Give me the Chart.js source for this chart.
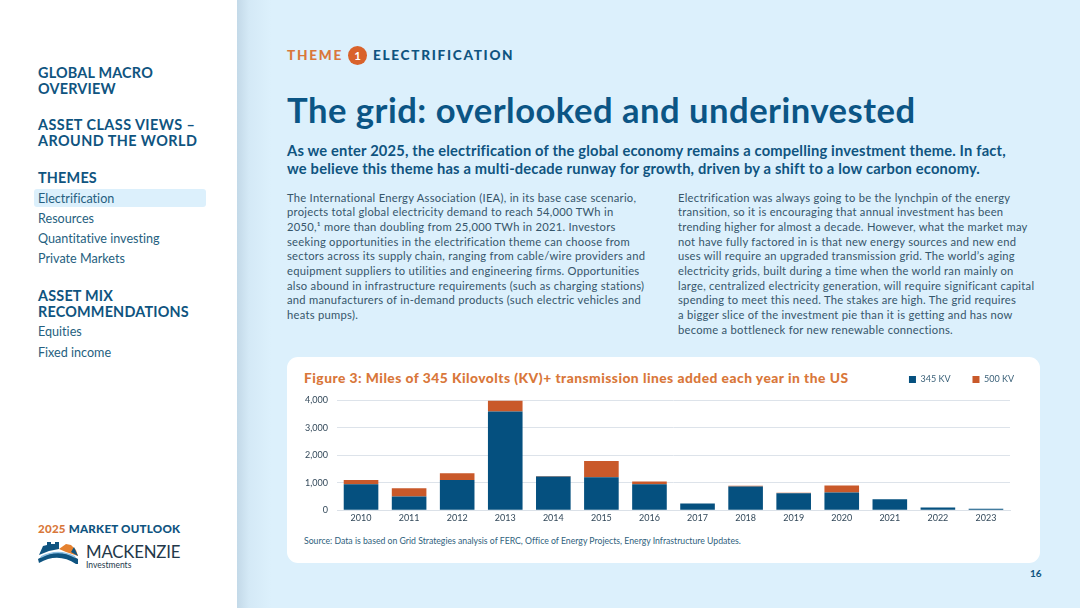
<!DOCTYPE html>
<html><head><meta charset="utf-8">
<script src="https://cdn.jsdelivr.net/npm/chart.js@4/dist/chart.umd.js"></script>
<style>
html,body{margin:0;padding:0;width:1080px;height:608px;overflow:hidden;background:#dcf0fc;font-family:Lato,sans-serif;font-variant-ligatures:none;-webkit-font-smoothing:antialiased}
.a{position:absolute;white-space:nowrap}
#side{position:absolute;left:0;top:0;width:237px;height:608px;background:#fff}
#shade{position:absolute;left:237px;top:0;width:34px;height:608px;background:linear-gradient(90deg,#c3d9e8,#d4e9f6 35%,#dcf0fc)}
.nh{color:#0f5480;font-weight:700;font-size:14.4px;line-height:16px;left:38px;letter-spacing:.2px}
.ni{color:#265f80;font-size:12.6px;line-height:16px;left:38px}
#hl{position:absolute;left:34px;top:189px;width:172px;height:18px;background:#dcf0fc;border-radius:3px}
.b{color:#36566b;font-size:11.2px;line-height:14.7px;letter-spacing:.27px}
#card{position:absolute;left:287px;top:357px;width:753px;height:206px;background:#fff;border-radius:11px}
#wrap{position:absolute;left:287px;top:357px;width:753px;height:206px}
</style></head><body>
<div id="side"></div><div id="shade"></div><div id="hl"></div>
<div class="a nh" style="top:65px">GLOBAL MACRO<br>OVERVIEW</div>
<div class="a nh" style="top:117px;letter-spacing:.45px">ASSET CLASS VIEWS –<br>AROUND THE WORLD</div>
<div class="a nh" style="top:170px">THEMES</div>
<div class="a ni" style="top:191px">Electrification</div>
<div class="a ni" style="top:211px">Resources</div>
<div class="a ni" style="top:231px">Quantitative investing</div>
<div class="a ni" style="top:251px">Private Markets</div>
<div class="a nh" style="top:288px">ASSET MIX<br>RECOMMENDATIONS</div>
<div class="a ni" style="top:324px">Equities</div>
<div class="a ni" style="top:345px">Fixed income</div>
<div class="a" style="left:38px;top:522px;font-size:11.6px;font-weight:900;letter-spacing:.22px;color:#0f5480"><span style="color:#d9773a">2025</span> MARKET OUTLOOK</div>
<svg class="a" style="left:38px;top:541px" width="42" height="26" viewBox="0 0 42 26">
<path d="M1 14 L5 5 L9 4 L9 1 L13 1 L13 3 L17 3 L17 1 L21 1 L21 8 L11 10 Z" fill="#0f5480"/>
<path d="M21 8 L28 3 L33 4 L38 9 L40 15 L28 11 Z" fill="#e5812f"/>
<path d="M36 6 L40 15 L33 11 Z" fill="#0f5480"/>
<path d="M0 18 Q20 5 40 18 L40 23 L38 23 Q20 11 1 22 Z" fill="#0f5480"/>
<path d="M3 16 Q20 7 37 16" stroke="#8fc1e3" stroke-width="1.6" fill="none"/>
</svg>
<div class="a" style="left:86px;top:541px;font-size:16.8px;color:#23384a;letter-spacing:-.2px">MACKENZIE</div>
<div class="a" style="left:86px;top:560px;font-size:8.5px;color:#23384a">Investments</div>

<div class="a" style="left:287px;top:47px;font-size:13.6px;font-weight:900;letter-spacing:1.75px;color:#d9773a">THEME</div>
<div class="a" style="left:348px;top:46px;width:19px;height:19px;border-radius:50%;background:#d9622b;color:#fff;font-size:11.5px;font-weight:700;text-align:center;line-height:19px">1</div>
<div class="a" style="left:373px;top:47px;font-size:13.6px;font-weight:900;letter-spacing:1.7px;color:#0f5480">ELECTRIFICATION</div>
<div class="a" style="left:287px;top:89px;font-size:34.6px;line-height:42px;font-weight:700;letter-spacing:.5px;color:#0b5585">The grid: overlooked and underinvested</div>
<div class="a" style="left:287px;top:141px;font-size:14.7px;line-height:18px;font-weight:700;letter-spacing:.18px;color:#0f5480">As we enter 2025, the electrification of the global economy remains a compelling investment theme. In fact,<br>we believe this theme has a multi-decade runway for growth, driven by a shift to a low carbon economy.</div>
<div class="a b" style="left:287px;top:190.5px">The International Energy Association (IEA), in its base case scenario,<br>projects total global electricity demand to reach 54,000 TWh in<br>2050,¹ more than doubling from 25,000 TWh in 2021. Investors<br>seeking opportunities in the electrification theme can choose from<br>sectors across its supply chain, ranging from cable/wire providers and<br>equipment suppliers to utilities and engineering firms. Opportunities<br>also abound in infrastructure requirements (such as charging stations)<br>and manufacturers of in-demand products (such electric vehicles and<br>heats pumps).</div>
<div class="a b" style="left:678px;top:190.5px">Electrification was always going to be the lynchpin of the energy<br>transition, so it is encouraging that annual investment has been<br>trending higher for almost a decade. However, what the market may<br>not have fully factored in is that new energy sources and new end<br>uses will require an upgraded transmission grid. The world’s aging<br>electricity grids, built during a time when the world ran mainly on<br>large, centralized electricity generation, will require significant capital<br>spending to meet this need. The stakes are high. The grid requires<br>a bigger slice of the investment pie than it is getting and has now<br>become a bottleneck for new renewable connections.</div>
<div id="card"></div>
<div class="a" style="left:304px;top:369px;font-size:13.8px;font-weight:900;letter-spacing:.47px;color:#d9773a">Figure 3: Miles of 345 Kilovolts (KV)+ transmission lines added each year in the US</div>
<div class="a" style="left:304px;top:535px;font-size:8.7px;color:#2f5f7d">Source: Data is based on Grid Strategies analysis of FERC, Office of Energy Projects, Energy Infrastructure Updates.</div>
<div class="a" style="left:1030px;top:567px;font-size:10px;font-weight:700;color:#0f5480">16</div>
<div id="wrap"><canvas id="c" width="753" height="206"></canvas></div>
<script>
const years=["2010","2011","2012","2013","2014","2015","2016","2017","2018","2019","2020","2021","2022","2023"];
const kv345=[950,500,1100,3600,1230,1200,950,250,870,620,650,400,100,60];
const kv500=[150,300,250,400,20,600,100,0,20,20,250,0,0,0];
const yTicks=[0,1000,2000,3000,4000];
new Chart(document.getElementById('c'),{
 type:'bar',
 data:{labels:years,datasets:[
  {label:'345 KV',data:kv345,backgroundColor:'#05507f',stack:'s',barPercentage:.72,categoryPercentage:1},
  {label:'500 KV',data:kv500,backgroundColor:'#c9592a',stack:'s',barPercentage:.72,categoryPercentage:1}]},
 plugins:[{id:'fixLegend',
   beforeInit(ch){const f=ch.legend.fit;ch.legend.fit=function(){f.call(this);this.height=43.5;};},
   afterLayout(ch){ch.legend.right+=26;ch.legend.left+=26;ch.legend.top-=4;}}],
 options:{responsive:false,animation:false,
  layout:{padding:{left:0,right:30,top:0,bottom:0}},
  plugins:{title:{display:false},tooltip:{enabled:false},
   legend:{position:'top',align:'end',labels:{boxWidth:7,boxHeight:7,padding:22,font:{family:'Lato',size:9},color:'#3a6078'}}},
  scales:{
   x:{stacked:true,grid:{display:false,drawTicks:false},border:{color:'#dbe1e8'},
      afterFit(s){s.height=52.7},
      ticks:{color:'#33495a',font:{family:'Lato',size:9},padding:2,maxRotation:0,autoSkip:false}},
   y:{stacked:true,min:0,max:4000,afterFit(s){s.width=50},
      afterBuildTicks(s){s.ticks=yTicks.map(v=>({value:v}))},
      grid:{color:'#dde3ea',drawTicks:false},border:{display:false},
      ticks:{color:'#33495a',font:{family:'Lato',size:9},padding:9,callback:v=>v.toLocaleString('en-US')}}
  }}
});
</script>
</body></html>
